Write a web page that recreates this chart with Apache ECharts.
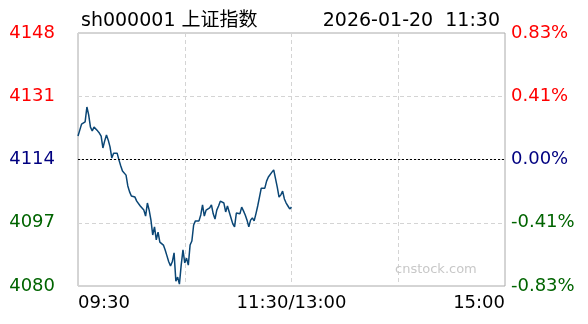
<!DOCTYPE html>
<html>
<head>
<meta charset="utf-8">
<script src="https://cdn.jsdelivr.net/npm/echarts@6/dist/echarts.min.js"></script>
<style>
html,body{margin:0;padding:0;background:#fff;}
#chart{width:588px;height:324px;}
</style>
</head>
<body>
<div id="chart"></div>
<script>
var titleText = 'sh000001 上证指数';
var dateText = '2026-01-20  11:30';
var watermark = 'cnstock.com';
var prevClose = 4114;
var leftTicks = ['4080', '4097', '4114', '4131', '4148'];
var rightTicks = ['-0.83%', '-0.41%', '0.00%', '0.41%', '0.83%'];
var tickColors = ['#006400', '#006400', '#000080', '#ff0000', '#ff0000'];
var timeLabels = {0: '09:30', 120: '11:30/13:00', 240: '15:00'};
var prices = [
  4120.3, 4121.9, 4123.5, 4123.8, 4124.1, 4128.1, 4126.0, 4122.7, 4121.7, 4122.7,
  4123.0, 4121.7, 4121.1, 4120.3, 4117.1, 4119.0, 4120.6, 4119.2, 4117.4, 4114.4,
  4115.7, 4115.7, 4115.7, 4113.9, 4112.3, 4110.9, 4110.9, 4109.8, 4106.9, 4105.3,
  4104.2, 4104.5, 4103.9, 4102.8, 4102.3, 4101.5, 4101.8, 4100.4, 4098.8, 4102.3,
  4100.4, 4097.7, 4093.7, 4095.9, 4092.4, 4094.5, 4091.8, 4091.6, 4091.0, 4089.7,
  4088.1, 4086.5, 4085.4, 4086.5, 4088.9, 4081.3, 4082.4, 4080.5, 4085.6, 4089.7,
  4086.2, 4087.5, 4085.6, 4091.0, 4092.1, 4096.4, 4097.5, 4097.7, 4097.5, 4099.1,
  4101.8, 4098.8, 4100.4, 4100.2, 4101.0, 4101.8, 4099.4, 4098.0, 4100.4, 4101.5,
  4102.8, 4102.6, 4102.3, 4099.9, 4101.5, 4099.9, 4098.3, 4096.7, 4095.9, 4099.6,
  4099.9, 4099.4, 4101.2, 4100.2, 4099.1, 4097.7, 4095.9, 4097.7, 4098.3, 4097.5,
  4099.4, 4101.5, 4103.9, 4106.3, 4105.8, 4106.3, 4108.2, 4109.3, 4109.0, 4110.6,
  4111.2, 4110.9, 4106.6, 4103.9, 4104.5, 4105.5, 4103.4, 4102.3, 4101.5, 4100.7,
  4101.2
];

var chart = echarts.init(document.getElementById('chart'), null, {renderer: 'canvas'});
var FONT = '"DejaVu Sans", Verdana, "Noto Sans CJK SC", sans-serif';
var leftMin = Number(leftTicks[0]);
var leftMax = Number(leftTicks[leftTicks.length - 1]);
var leftStep = Number(leftTicks[1]) - Number(leftTicks[0]);

chart.setOption({
  animation: false,
  backgroundColor: '#fff',
  textStyle: {fontFamily: FONT},
  title: [
    {text: titleText, left: 76, top: 7, textStyle: {fontSize: 19, fontWeight: 'normal', color: '#000', fontFamily: FONT}},
    {text: dateText, right: 83, top: 7, textStyle: {fontSize: 19, fontWeight: 'normal', color: '#000', fontFamily: FONT}}
  ],
  grid: {left: 78, right: 83, top: 33, bottom: 38, show: true, borderColor: '#aaaaaa', borderWidth: 1, backgroundColor: 'transparent'},
  graphic: [{
    type: 'text', left: 395, top: 263, z: 1,
    style: {text: watermark, fill: '#c8c8c8', font: '13px ' + FONT}
  }],
  xAxis: {
    type: 'value', min: 0, max: 240, interval: 60,
    axisLine: {show: false}, axisTick: {show: false},
    splitLine: {show: true, lineStyle: {color: '#d4d4d4', type: [4, 3], width: 1}},
    axisLabel: {
      margin: 8, fontSize: 18, color: '#000', fontFamily: FONT,
      alignMinLabel: 'left', alignMaxLabel: 'right',
      formatter: function (v) { return timeLabels[v] || ''; }
    }
  },
  yAxis: [{
    type: 'value', min: leftMin, max: leftMax, interval: leftStep, position: 'left',
    axisLine: {show: false}, axisTick: {show: false},
    splitLine: {show: true, lineStyle: {color: '#d4d4d4', type: [4, 3], width: 1}},
    axisLabel: {
      margin: 23, fontSize: 18, fontFamily: FONT,
      formatter: function (v) { var i = Math.round((v - leftMin) / leftStep); return leftTicks[i]; },
      color: function (v) { var i = Math.round((v - leftMin) / leftStep); return tickColors[i]; }
    }
  }, {
    type: 'value', min: 0, max: rightTicks.length - 1, interval: 1, position: 'right',
    axisLine: {show: false}, axisTick: {show: false}, splitLine: {show: false},
    axisLabel: {
      margin: 6, fontSize: 18, fontFamily: FONT,
      formatter: function (v) { return rightTicks[Math.round(v)]; },
      color: function (v) { return tickColors[Math.round(v)]; }
    }
  }],
  series: [{
    type: 'line', yAxisIndex: 0, showSymbol: false, symbol: 'none',
    data: prices.map(function (p, i) { return [i, p]; }),
    lineStyle: {color: '#0a4675', width: 1.5},
    z: 3,
    markLine: {
      silent: true, symbol: 'none', label: {show: false},
      lineStyle: {color: '#000', type: [2, 2], width: 1},
      data: [{yAxis: prevClose}]
    }
  }]
});
</script>
</body>
</html>
